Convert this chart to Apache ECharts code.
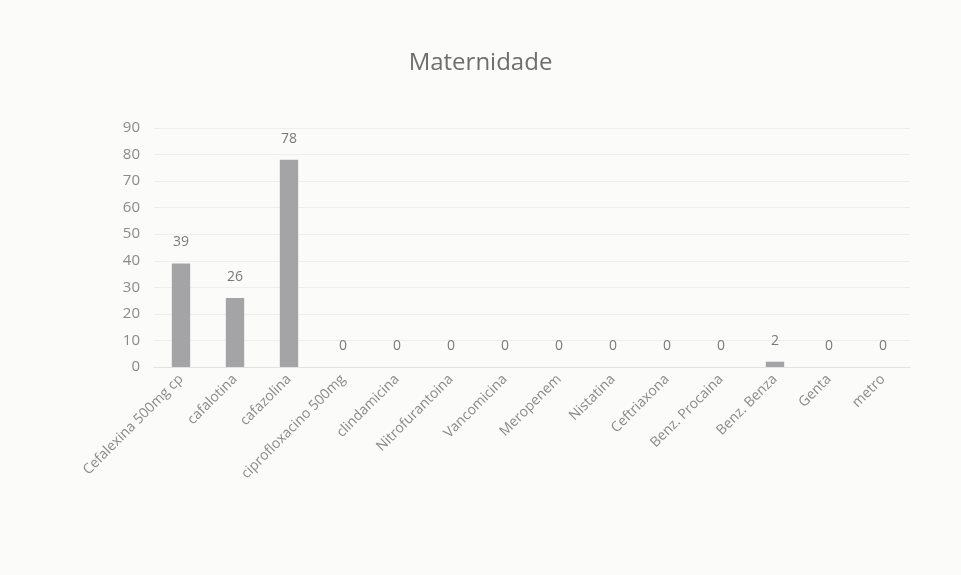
<!DOCTYPE html>
<html>
<head>
<meta charset="utf-8">
<script src="https://cdn.jsdelivr.net/npm/echarts@6/dist/echarts.min.js"></script>
<style>
  html, body { margin: 0; padding: 0; background: #fbfbfa; }
  #chart { width: 961px; height: 575px; }
</style>
</head>
<body>
<div id="chart"></div>
<script>
// categorias (antibióticos)
var categorias = ['Cefalexina 500mg cp', 'cafalotina', 'cafazolina', 'ciprofloxacino 500mg', 'clindamicina',
  'Nitrofurantoina', 'Vancomicina', 'Meropenem', 'Nistatina', 'Ceftriaxona', 'Benz. Procaina',
  'Benz. Benza', 'Genta', 'metro']
// quantidades
var valores = [39, 26, 78, 0, 0, 0, 0, 0, 0, 0, 0, 2, 0, 0]
var yTicks = [0, 10, 20, 30, 40, 50, 60, 70, 80, 90]

var myChart = echarts.init(document.getElementById('chart'))
myChart.setOption({
  backgroundColor: '#fbfbfa',
  title: {
    text: 'Maternidade',
    left: 'center',
    top: 46,
    textStyle: { fontFamily: 'Open Sans', fontWeight: 'normal', fontSize: 24, color: '#6e6e6e' }
  },
  grid: { left: 154, right: 51, top: 128, bottom: 208 },
  xAxis: {
    type: 'category',
    data: categorias,
    axisLine: { lineStyle: { color: '#e2e2e2' } },
    axisTick: { show: false },
    axisLabel: {
      rotate: 45,
      interval: 0,
      margin: 10,
      fontFamily: 'Open Sans',
      fontSize: 14,
      color: '#8a8a8a'
    }
  },
  yAxis: {
    type: 'value',
    min: yTicks[0],
    max: yTicks[yTicks.length - 1],
    interval: 10,
    axisLine: { show: false },
    axisTick: { show: false },
    splitLine: { lineStyle: { color: '#eeeeee' } },
    axisLabel: { fontFamily: 'Open Sans', fontSize: 15, color: '#8a8a8a', margin: 14 }
  },
  series: [{
    type: 'bar',
    data: valores,
    barWidth: '34%',
    itemStyle: { color: '#a4a4a6' },
    label: {
      show: true,
      position: 'top',
      distance: 14,
      fontFamily: 'Open Sans',
      fontSize: 14,
      color: '#7a7a7a'
    }
  }]
})
</script>
</body>
</html>
